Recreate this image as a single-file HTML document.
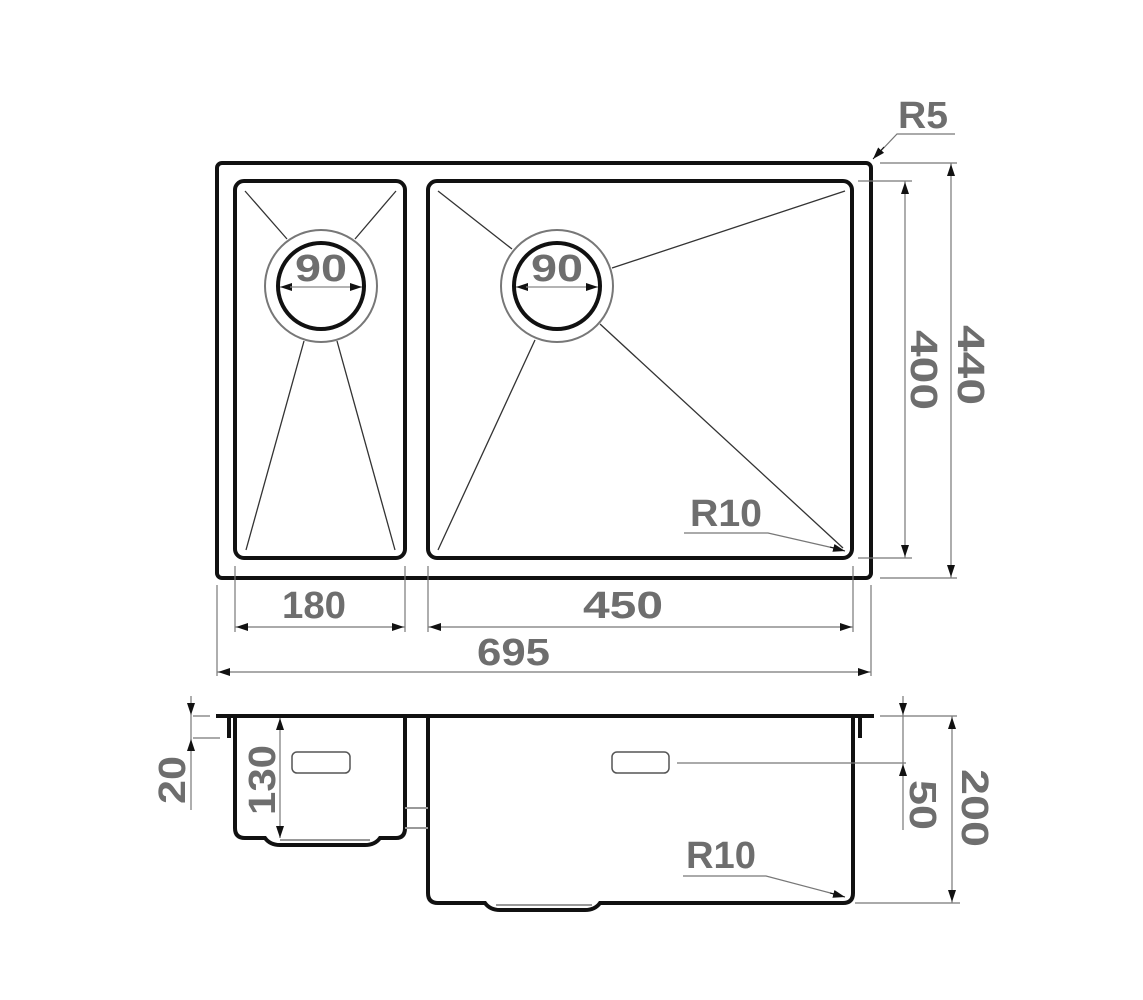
<!DOCTYPE html>
<html><head><meta charset="utf-8"><style>
html,body{margin:0;padding:0;background:#fff;}
svg{display:block}
text{font-family:"Liberation Sans",sans-serif;font-weight:bold;fill:#6e6e6e;font-size:38px;}
</style></head><body>
<svg width="1143" height="1000" viewBox="0 0 1143 1000" xmlns="http://www.w3.org/2000/svg">
<defs>
<marker id="a" markerWidth="12" markerHeight="8" refX="12" refY="4" orient="auto" markerUnits="userSpaceOnUse">
<path d="M0,0 L12,4 L0,8 Z" fill="#111"/></marker>
</defs>
<!-- top view -->
<rect x="217" y="163" width="654" height="415" rx="5" fill="none" stroke="#111" stroke-width="4"/>
<rect x="235" y="181" width="170" height="377" rx="9" fill="none" stroke="#111" stroke-width="4"/>
<rect x="428" y="181" width="424" height="377" rx="9" fill="none" stroke="#111" stroke-width="4"/>
<g stroke="#333" stroke-width="1.3" fill="none">
<line x1="245" y1="191" x2="287" y2="239"/>
<line x1="396" y1="191" x2="355" y2="239"/>
<line x1="246" y1="550" x2="304" y2="341"/>
<line x1="395" y1="550" x2="337" y2="341"/>
<line x1="438" y1="191" x2="512" y2="249"/>
<line x1="845" y1="191" x2="612" y2="268"/>
<line x1="438" y1="550" x2="535" y2="340"/>
<line x1="843" y1="548" x2="600" y2="324"/>
</g>
<circle cx="321" cy="286" r="56" fill="#fff" stroke="#777" stroke-width="2"/>
<circle cx="321" cy="286" r="43" fill="none" stroke="#111" stroke-width="4"/>
<circle cx="557" cy="286" r="56" fill="#fff" stroke="#777" stroke-width="2"/>
<circle cx="557" cy="286" r="43" fill="none" stroke="#111" stroke-width="4"/>
<g stroke="#888" stroke-width="1.2" fill="none">
<line x1="290" y1="287" x2="280" y2="287" marker-end="url(#a)"/>
<line x1="350" y1="287" x2="362" y2="287" marker-end="url(#a)"/>
<line x1="290" y1="287" x2="350" y2="287"/>
<line x1="526" y1="287" x2="516" y2="287" marker-end="url(#a)"/>
<line x1="586" y1="287" x2="598" y2="287" marker-end="url(#a)"/>
<line x1="526" y1="287" x2="586" y2="287"/>
</g>
<text x="295" y="281" textLength="52" lengthAdjust="spacingAndGlyphs">90</text>
<text x="531" y="281" textLength="52" lengthAdjust="spacingAndGlyphs">90</text>
<!-- R5 -->
<text x="898" y="128" textLength="50" lengthAdjust="spacingAndGlyphs">R5</text>
<polyline points="955,134 897,134 876,156" fill="none" stroke="#777" stroke-width="1.2"/>
<line x1="884" y1="147" x2="873" y2="159" stroke="#111" marker-end="url(#a)"/>
<!-- R10 top -->
<text x="690" y="526" textLength="72" lengthAdjust="spacingAndGlyphs">R10</text>
<polyline points="684,533 768,533 838,549" fill="none" stroke="#777" stroke-width="1.2"/>
<line x1="830" y1="547" x2="845" y2="551" stroke="#111" marker-end="url(#a)"/>
<!-- right dims top -->
<g stroke="#777" stroke-width="1.2" fill="none">
<line x1="858" y1="181" x2="912" y2="181"/>
<line x1="858" y1="558" x2="912" y2="558"/>
<line x1="880" y1="163" x2="957" y2="163"/>
<line x1="880" y1="578" x2="957" y2="578"/>
<line x1="905" y1="181" x2="905" y2="558"/>
<line x1="951" y1="163" x2="951" y2="578"/>
</g>
<line x1="905" y1="200" x2="905" y2="182" stroke="#777" marker-end="url(#a)"/>
<line x1="905" y1="540" x2="905" y2="557" stroke="#777" marker-end="url(#a)"/>
<line x1="951" y1="180" x2="951" y2="164" stroke="#777" marker-end="url(#a)"/>
<line x1="951" y1="560" x2="951" y2="577" stroke="#777" marker-end="url(#a)"/>
<text transform="translate(911,330) rotate(90)" textLength="80" lengthAdjust="spacingAndGlyphs">400</text>
<text transform="translate(958,325) rotate(90)" textLength="80" lengthAdjust="spacingAndGlyphs">440</text>
<!-- bottom dims -->
<g stroke="#777" stroke-width="1.2" fill="none">
<line x1="235" y1="566" x2="235" y2="632"/>
<line x1="405" y1="566" x2="405" y2="632"/>
<line x1="428" y1="566" x2="428" y2="632"/>
<line x1="853" y1="566" x2="853" y2="632"/>
<line x1="217" y1="585" x2="217" y2="676"/>
<line x1="871" y1="585" x2="871" y2="676"/>
<line x1="235" y1="627" x2="405" y2="627"/>
<line x1="428" y1="627" x2="853" y2="627"/>
<line x1="217" y1="672" x2="871" y2="672"/>
</g>
<g stroke="#777">
<line x1="250" y1="627" x2="236" y2="627" marker-end="url(#a)"/>
<line x1="390" y1="627" x2="404" y2="627" marker-end="url(#a)"/>
<line x1="443" y1="627" x2="429" y2="627" marker-end="url(#a)"/>
<line x1="838" y1="627" x2="852" y2="627" marker-end="url(#a)"/>
<line x1="232" y1="672" x2="218" y2="672" marker-end="url(#a)"/>
<line x1="856" y1="672" x2="870" y2="672" marker-end="url(#a)"/>
</g>
<text x="282" y="618" textLength="64" lengthAdjust="spacingAndGlyphs">180</text>
<text x="583" y="618" textLength="80" lengthAdjust="spacingAndGlyphs">450</text>
<text x="477" y="665" textLength="73" lengthAdjust="spacingAndGlyphs">695</text>
<!-- side view -->
<g stroke="#111" stroke-width="4" fill="none">
<line x1="216" y1="716" x2="874" y2="716"/>
<line x1="229" y1="718" x2="229" y2="738"/>
<line x1="860" y1="718" x2="860" y2="738"/>
<path d="M235,716 V828 Q235,838 245,838 H265 Q270,845 280,845 H365 Q375,845 380,838 H396 Q405,838 405,828 V716"/>
<path d="M428,716 V893 Q428,903 438,903 H485 Q490,910 500,910 H585 Q595,910 600,903 H843 Q853,903 853,893 V716"/>
</g>
<g stroke="#999" stroke-width="2" fill="none">
<line x1="280" y1="840" x2="370" y2="840"/>
<line x1="496" y1="905" x2="592" y2="905"/>
<line x1="405" y1="808" x2="428" y2="808"/>
<line x1="405" y1="828" x2="428" y2="828"/>
</g>
<rect x="292" y="752" width="58" height="21" rx="5" fill="none" stroke="#555" stroke-width="1.5"/>
<rect x="612" y="752" width="57" height="21" rx="5" fill="none" stroke="#555" stroke-width="1.5"/>
<g stroke="#777" stroke-width="1.2" fill="none">
<line x1="677" y1="763" x2="906" y2="763"/>
<line x1="191" y1="696" x2="191" y2="810"/>
<line x1="193" y1="716" x2="210" y2="716"/>
<line x1="193" y1="738" x2="220" y2="738"/>
<line x1="280" y1="718" x2="280" y2="838"/>
<line x1="903" y1="696" x2="903" y2="830"/>
<line x1="880" y1="716" x2="957" y2="716"/>
<line x1="855" y1="903" x2="960" y2="903"/>
<line x1="952" y1="716" x2="952" y2="903"/>
</g>
<g stroke="#777">
<line x1="191" y1="700" x2="191" y2="715" marker-end="url(#a)"/>
<line x1="191" y1="754" x2="191" y2="739" marker-end="url(#a)"/>
<line x1="280" y1="732" x2="280" y2="718" marker-end="url(#a)"/>
<line x1="280" y1="824" x2="280" y2="838" marker-end="url(#a)"/>
<line x1="903" y1="700" x2="903" y2="715" marker-end="url(#a)"/>
<line x1="903" y1="779" x2="903" y2="764" marker-end="url(#a)"/>
<line x1="952" y1="732" x2="952" y2="717" marker-end="url(#a)"/>
<line x1="952" y1="888" x2="952" y2="902" marker-end="url(#a)"/>
</g>
<text transform="translate(185,804) rotate(-90)" textLength="48" lengthAdjust="spacingAndGlyphs">20</text>
<text transform="translate(275,815) rotate(-90)" textLength="70" lengthAdjust="spacingAndGlyphs">130</text>
<text transform="translate(910,780) rotate(90)" textLength="50" lengthAdjust="spacingAndGlyphs">50</text>
<text transform="translate(962,769) rotate(90)" textLength="78" lengthAdjust="spacingAndGlyphs">200</text>
<text x="686" y="868" textLength="70" lengthAdjust="spacingAndGlyphs">R10</text>
<polyline points="683,876 766,876 838,895" fill="none" stroke="#777" stroke-width="1.2"/>
<line x1="830" y1="893" x2="845" y2="897" stroke="#111" marker-end="url(#a)"/>
</svg>
</body></html>
